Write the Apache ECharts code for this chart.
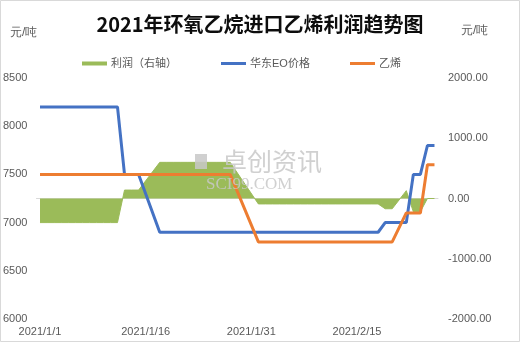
<!DOCTYPE html>
<html><head><meta charset="utf-8">
<script src="https://cdn.jsdelivr.net/npm/echarts@6/dist/echarts.min.js"></script>
<style>html,body{margin:0;padding:0;background:#fff}#c{width:520px;height:342px}</style>
</head><body><div id="c"></div>
<script>
const chartTitle = '2021年环氧乙烷进口乙烯利润趋势图';
const unitLabel = '元/吨';
const seriesNames = ['利润（右轴）', '华东EO价格', '乙烯'];
const firstDay = [2021, 1, 1];
const dayCount = 57;
const categories = [];
for (let i = 0; i < dayCount; i++) {
  const d = new Date(firstDay[0], firstDay[1] - 1, firstDay[2] + i);
  categories.push(d.getFullYear() + '/' + (d.getMonth() + 1) + '/' + d.getDate());
}
// 利润（右轴）
const profit = [
  -400,-400,-400,-400,-400,-400,-400,-400,-400,-400,-400,-400,
  140,140,140,null,null,
  600,600,600,600,600,600,600,600,600,600,600,
  null,null,null,
  -90,-90,-90,-90,-90,-90,-90,-90,-90,-90,-90,-90,-90,-90,-90,-90,-90,-90,
  -170,-170,null,130,-220,-220,0,0
];
// 华东EO价格
const eoPrice = [
  8200,8200,8200,8200,8200,8200,8200,8200,8200,8200,8200,8200,
  7500,7500,7500,null,null,
  6900,6900,6900,6900,6900,6900,6900,6900,6900,6900,6900,
  null,null,null,
  6900,6900,6900,6900,6900,6900,6900,6900,6900,6900,6900,6900,6900,6900,6900,6900,6900,6900,
  7000,7000,null,7000,7500,7500,7800,7800
];
// 乙烯
const ethylene = [
  7500,7500,7500,7500,7500,7500,7500,7500,7500,7500,7500,7500,
  7500,7500,7500,null,null,
  7500,7500,7500,7500,7500,7500,7500,7500,7500,7500,7500,
  null,null,null,
  6800,6800,6800,6800,6800,6800,6800,6800,6800,6800,6800,6800,6800,6800,6800,6800,6800,6800,
  6800,6800,null,7100,7100,7100,7600,7600
];
const leftAxisRange = [6000, 8500, 500];
const rightAxisRange = [-2000, 2000, 1000];
const colors = ['#9BBB59', '#4472C4', '#ED7D31'];

const FONT = '"Liberation Sans", "Noto Sans CJK SC", sans-serif';
const GRAY = '#595959';
const WM = 'rgba(200,200,200,0.85)';
const chart = echarts.init(document.getElementById('c'), null, {renderer: 'canvas'});

function legendFor(idx, left, h) {
  return {
    left: left, top: 53, itemWidth: 25, itemHeight: h, itemGap: 0,
    icon: 'rect', data: [seriesNames[idx]],
    textStyle: {color: GRAY, fontSize: 11, fontFamily: FONT, padding: [0, 0, 0, -1]},
    selectedMode: false
  };
}

chart.setOption({
  animation: false,
  backgroundColor: '#fff',
  title: {
    text: chartTitle, left: 'center', top: 9,
    textStyle: {fontSize: 20, fontWeight: 'bold', color: '#0d0d0d', fontFamily: '"Noto Sans CJK SC", sans-serif'}
  },
  legend: [legendFor(0, 77, 4), legendFor(1, 216, 3), legendFor(2, 345, 3)],
  grid: {left: 36, right: 82, top: 78, bottom: 23},
  xAxis: {
    type: 'category', data: categories, boundaryGap: true,
    axisLine: {lineStyle: {color: '#d9d9d9', width: 1}},
    axisTick: {interval: 14, length: 4, lineStyle: {color: '#d9d9d9'}},
    axisLabel: {interval: 14, color: GRAY, fontSize: 11, fontFamily: FONT, margin: 7},
    splitLine: {show: false}
  },
  yAxis: [
    {
      type: 'value', min: leftAxisRange[0], max: leftAxisRange[1], interval: leftAxisRange[2],
      axisLine: {show: false}, axisTick: {show: false}, splitLine: {show: false},
      axisLabel: {color: GRAY, fontSize: 11, fontFamily: FONT, margin: 9, formatter: v => String(v)}
    },
    {
      type: 'value', min: rightAxisRange[0], max: rightAxisRange[1], interval: rightAxisRange[2],
      axisLine: {show: false}, axisTick: {show: false}, splitLine: {show: false},
      axisLabel: {color: GRAY, fontSize: 11, fontFamily: FONT, margin: 10, formatter: v => v.toFixed(2)}
    }
  ],
  graphic: [
    {type: 'rect', shape: {x: 0.5, y: 0.5, width: 519, height: 341}, style: {fill: 'none', stroke: '#d9d9d9', lineWidth: 1}, silent: true},
    {type: 'text', left: 10, top: 27, style: {text: unitLabel, fill: GRAY, fontSize: 12, font: '12px ' + FONT}},
    {type: 'text', left: 461, top: 25, style: {text: unitLabel, fill: GRAY, fontSize: 12, font: '12px ' + FONT}},
    {type: 'rect', z: 50, shape: {x: 195, y: 154, width: 12, height: 15}, style: {fill: WM}, silent: true},
    {type: 'text', z: 50, left: 222, top: 149, style: {text: '卓创资讯', fill: WM, font: '25px "Noto Sans CJK SC", sans-serif'}, silent: true},
    {type: 'text', z: 50, left: 206, top: 176, style: {text: 'SCI99.COM', fill: WM, font: '17px "Liberation Serif", serif'}, silent: true}
  ],
  series: [
    {
      name: seriesNames[0], type: 'line', yAxisIndex: 1, data: profit, connectNulls: true,
      showSymbol: false, symbol: 'none', color: colors[0],
      lineStyle: {width: 1, color: colors[0]}, areaStyle: {color: colors[0], opacity: 1}, z: 1
    },
    {
      name: seriesNames[1], type: 'line', yAxisIndex: 0, data: eoPrice, connectNulls: true,
      showSymbol: false, symbol: 'none', color: colors[1],
      lineStyle: {width: 3, color: colors[1]}, z: 2
    },
    {
      name: seriesNames[2], type: 'line', yAxisIndex: 0, data: ethylene, connectNulls: true,
      showSymbol: false, symbol: 'none', color: colors[2],
      lineStyle: {width: 3, color: colors[2]}, z: 3
    }
  ]
});
</script></body></html>
